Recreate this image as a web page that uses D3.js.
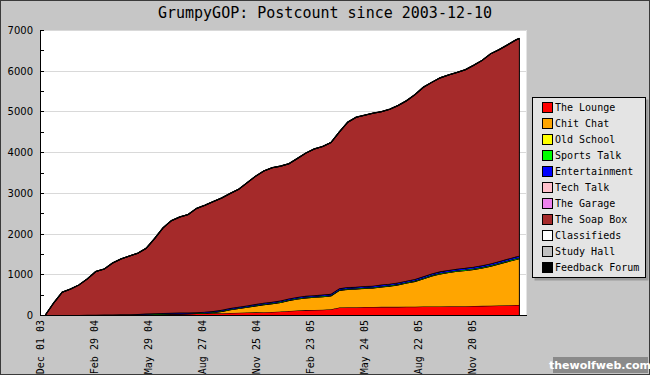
<!DOCTYPE html>
<html>
<head>
<meta charset="utf-8">
<script src="https://cdn.jsdelivr.net/npm/d3@7/dist/d3.min.js"></script>
<style>
body { margin: 0; background: #c6c6c6; }
svg { display: block; }
.tick-ext { stroke: #d9d9d9; }
</style>
</head>
<body>
<div id="chart"></div>
<script>
var titleText = "GrumpyGOP: Postcount since 2003-12-10";

var dates = ["2003-12-10","2003-12-24","2004-01-07","2004-01-21","2004-02-04","2004-02-18","2004-03-03","2004-03-17","2004-03-31","2004-04-14",
	"2004-04-28","2004-05-12","2004-05-26","2004-06-09","2004-06-23","2004-07-07","2004-07-21","2004-08-04","2004-08-18","2004-09-01",
	"2004-09-15","2004-09-29","2004-10-13","2004-10-27","2004-11-10","2004-11-24","2004-12-08","2004-12-22","2005-01-05","2005-01-19",
	"2005-02-02","2005-02-16","2005-03-02","2005-03-16","2005-03-30","2005-04-13","2005-04-27","2005-05-11","2005-05-25","2005-06-08",
	"2005-06-22","2005-07-06","2005-07-20","2005-08-03","2005-08-17","2005-08-31","2005-09-14","2005-09-28","2005-10-12","2005-10-26",
	"2005-11-09","2005-11-23","2005-12-07","2005-12-21","2006-01-04","2006-01-18","2006-02-01","2006-02-07"];

var theLounge = [0,0,0,0,0,0,0,0,0,0, 0,0,10,15,20,25,28,30,35,38, 40,45,50,55,60,65,70,75,85,100,
	110,120,125,130,140,185,190,190,195,195, 200,200,200,205,205,210,210,210,215,215, 215,220,225,230,235,240,245,245];
var chitChat = [0,0,0,0,0,0,0,0,0,0, 0,0,0,0,0,0,0,0,0,5, 20,45,80,105,130,160,185,205,225,260,
	285,300,310,320,330,420,440,450,460,470, 490,510,540,580,620,680,750,800,830,860, 880,900,930,970,1020,1070,1120,1140];
var oldSchool = [0,0,0,0,0,0,0,0,0,0, 0,0,0,0,0,0,0,0,0,0, 0,0,0,0,0,0,0,0,0,0,
	1,1,1,1,1,1,1,1,1,1, 1,1,1,1,1,1,1,1,1,1, 1,1,1,1,1,1,1,1];
var sportsTalk = [0,0,0,0,0,2,3,4,5,6, 7,8,9,10,10,10,11,11,12,12, 12,13,13,13,14,14,14,15,15,15,
	15,16,16,16,16,17,17,17,17,18, 18,18,18,18,19,19,19,19,19,20, 20,20,20,20,21,21,21,21];
var entertainment = [0,0,0,0,0,3,5,7,9,11, 13,14,15,17,18,19,20,21,22,23, 24,25,26,26,27,27,28,28,29,29,
	30,30,31,31,32,32,33,33,33,33, 34,34,34,34,35,35,36,36,36,37, 37,38,38,39,39,40,40,40];
var techTalk = [0,0,0,0,0,0,0,0,0,0, 1,1,1,1,1,1,1,1,1,1, 2,2,2,2,2,2,2,2,2,2,
	3,3,3,3,3,3,3,3,3,3, 4,4,4,4,4,4,4,4,4,4, 5,5,5,5,5,5,5,5];
var theGarage = [0,0,0,0,0,0,0,0,0,0, 0,0,0,0,0,0,0,0,0,0, 1,1,1,1,1,1,1,1,1,1,
	1,1,1,1,1,1,1,1,1,1, 2,2,2,2,2,2,2,2,2,2, 2,2,2,2,2,2,2,2];
var theSoapBox = [0,300,560,640,740,883,1060,1117,1264,1361, 1427,1495,1603,1835,2089,2263,2348,2405,2548,2619,
	2687,2745,2814,2884,3012,3137,3236,3290,3299,3309, 3401,3505,3589,3634,3713,3837,4051,4161,4196,4235,
	4245,4285,4345,4420,4528,4643,4692,4752,4787,4815, 4864,4948,5033,5147,5191,5255,5320,5340];
var classifieds = [0,0,0,0,0,0,0,0,0,0, 0,0,0,0,0,0,0,0,0,0, 0,0,0,0,0,0,0,0,0,0,
	0,0,0,0,0,0,0,0,0,0, 0,0,0,0,0,0,0,0,0,0, 0,0,0,0,0,0,0,0];
var studyHall = [0,0,0,0,0,0,0,0,0,0, 0,0,0,0,0,0,0,0,0,0, 0,0,0,0,0,0,0,0,0,0,
	0,0,0,0,0,0,0,0,0,0, 0,0,0,0,0,0,0,0,0,0, 0,0,0,0,0,0,0,0];
var feedbackForum = [0,0,0,0,0,2,2,2,2,2, 2,2,2,2,2,2,2,2,2,2, 4,4,4,4,4,4,4,4,4,4,
	4,4,4,4,4,4,4,4,4,4, 6,6,6,6,6,6,6,6,6,6, 6,6,6,6,6,6,6,6];

var seriesNames = ["The Lounge","Chit Chat","Old School","Sports Talk","Entertainment","Tech Talk",
	"The Garage","The Soap Box","Classifieds","Study Hall","Feedback Forum"];
var seriesColors = ["#ff0000","#ffa500","#ffff00","#00ff00","#0000ff","#ffc0cb",
	"#ee82ee","#a52a2a","#ffffff","#c0c0c0","#000000"];
var seriesValues = [theLounge, chitChat, oldSchool, sportsTalk, entertainment, techTalk,
	theGarage, theSoapBox, classifieds, studyHall, feedbackForum];

var xTickDates = ["2003-12-01","2004-02-29","2004-05-29","2004-08-27","2004-11-25","2005-02-23","2005-05-24","2005-08-22","2005-11-20"];
var xDomain = ["2003-12-01","2006-02-18"];
var yTicks = [0,1000,2000,3000,4000,5000,6000,7000];
var yMinorTicks = [0,500,1000,1500,2000,2500,3000,3500,4000,4500,5000,5500,6000,6500,7000];

var parseDate = d3.utcParse("%Y-%m-%d"),
	formatTick = d3.utcFormat("%b %d %y");

var W = 650, H = 375;
var plot = { left: 40, right: 526, top: 30, bottom: 315 };

var svg = d3.select('#chart').append("svg")
	.attr("width", W)
	.attr("height", H);

svg.append("rect")
	.attr("x", 0.5).attr("y", 0.5)
	.attr("width", W - 1).attr("height", H - 1)
	.attr("fill", "#c6c6c6")
	.attr("stroke", "#3a3a3a");

svg.append("text")
	.attr("x", 325)
	.attr("y", 18)
	.attr("text-anchor", "middle")
	.style("font", "15px 'DejaVu Sans Mono', monospace")
	.attr("fill", "#000")
	.text(titleText);

var x = d3.scaleUtc()
	.domain(xDomain.map(parseDate))
	.range([plot.left, plot.right]);

var y = d3.scaleLinear()
	.domain([0, 7000])
	.range([plot.bottom, plot.top]);

// plot background
svg.append("rect")
	.attr("x", plot.left)
	.attr("y", plot.top)
	.attr("width", plot.right - plot.left)
	.attr("height", plot.bottom - plot.top)
	.attr("fill", "#fff");

svg.append("line")
	.attr("x1", plot.right + 0.5).attr("x2", plot.right + 0.5)
	.attr("y1", plot.top).attr("y2", plot.bottom)
	.attr("stroke", "#e4e4e4");

// horizontal lines
svg.append("g")
	.selectAll("line")
	.data(yTicks.slice(1))
	.enter().append("line")
	.attr("class", "tick-ext")
	.attr("x1", plot.left)
	.attr("x2", plot.right)
	.attr("y1", function(d) { return Math.round(y(d)) + 0.5; })
	.attr("y2", function(d) { return Math.round(y(d)) + 0.5; });

// stacked data
var rows = dates.map(function(d, i) {
	var row = { date: parseDate(d) };
	seriesNames.forEach(function(name, k) { row[name] = seriesValues[k][i]; });
	return row;
});

var stack = d3.stack().keys(seriesNames);
var layers = stack(rows);

var area = d3.area()
	.x(function(d) { return x(d.data.date); })
	.y0(function(d) { return y(d[0]); })
	.y1(function(d) { return y(d[1]); });

var line = d3.line()
	.x(function(d) { return x(d.data.date); })
	.y(function(d) { return y(d[1]); });

var gs = svg.append("g")
	.selectAll(".layer")
	.data(layers)
	.enter().append("g")
	.attr("class", "layer");

gs.append("path")
	.attr("d", area)
	.attr("fill", function(d, i) { return seriesColors[i]; });

gs.append("path")
	.attr("d", line)
	.attr("fill", "none")
	.attr("stroke", "#000")
	.attr("stroke-width", 1.1);

// right edge of the data
var last = layers[layers.length - 1];
svg.append("line")
	.attr("x1", x(rows[rows.length - 1].date))
	.attr("x2", x(rows[rows.length - 1].date))
	.attr("y1", y(0))
	.attr("y2", y(last[last.length - 1][1]))
	.attr("stroke", "#000")
	.attr("stroke-width", 1);

// y axis
svg.append("g")
	.selectAll("line")
	.data(yMinorTicks)
	.enter().append("line")
	.attr("x1", plot.left)
	.attr("x2", plot.left + 4)
	.attr("y1", function(d) { return Math.round(y(d)) + 0.5; })
	.attr("y2", function(d) { return Math.round(y(d)) + 0.5; })
	.attr("stroke", "#000");

svg.append("g")
	.selectAll("text")
	.data(yTicks)
	.enter().append("text")
	.attr("x", 33)
	.attr("y", function(d) { return y(d) + 4; })
	.attr("text-anchor", "end")
	.style("font", "10px 'DejaVu Sans', sans-serif")
	.attr("fill", "#000")
	.text(function(d) { return d; });

svg.append("line")
	.attr("x1", plot.left + 0.5).attr("x2", plot.left + 0.5)
	.attr("y1", plot.top).attr("y2", plot.bottom + 1)
	.attr("stroke", "#000");

svg.append("line")
	.attr("x1", plot.left).attr("x2", plot.right + 1)
	.attr("y1", plot.bottom + 0.5).attr("y2", plot.bottom + 0.5)
	.attr("stroke", "#000");

// x axis labels
svg.append("g")
	.selectAll("text")
	.data(xTickDates.map(parseDate))
	.enter().append("text")
	.attr("transform", function(d) { return "translate(" + (x(d) + 4) + "," + 320 + ") rotate(-90)"; })
	.attr("text-anchor", "end")
	.style("font", "10px 'DejaVu Sans Mono', monospace")
	.attr("fill", "#000")
	.text(formatTick);

// legend
var legend = svg.append("g")
	.attr("transform", "translate(532,97)");

legend.append("rect")
	.attr("x", 2.5).attr("y", 2.5)
	.attr("width", 114).attr("height", 181)
	.attr("fill", "#9a9a9a");

legend.append("rect")
	.attr("x", 0.5).attr("y", 0.5)
	.attr("width", 113).attr("height", 180)
	.attr("fill", "#e4e4e4")
	.attr("stroke", "#000");

var items = legend.selectAll(".item")
	.data(seriesNames)
	.enter().append("g")
	.attr("class", "item")
	.attr("transform", function(d, i) { return "translate(0," + (i * 16) + ")"; });

items.append("rect")
	.attr("x", 10.5).attr("y", 5.5)
	.attr("width", 10).attr("height", 10)
	.attr("fill", function(d, i) { return seriesColors[i]; })
	.attr("stroke", "#000");

items.append("text")
	.attr("x", 23)
	.attr("y", 14)
	.style("font", "10px 'DejaVu Sans Mono', monospace")
	.attr("fill", "#000")
	.text(function(d) { return d; });

// watermark
svg.append("rect")
	.attr("x", 553).attr("y", 357)
	.attr("width", 95).attr("height", 16)
	.attr("fill", "#8a8a8a");

svg.append("text")
	.attr("x", 600)
	.attr("y", 369)
	.attr("text-anchor", "middle")
	.style("font", "bold 11px 'DejaVu Sans', sans-serif")
	.attr("fill", "#fff")
	.text("thewolfweb.com");
</script>
</body>
</html>
